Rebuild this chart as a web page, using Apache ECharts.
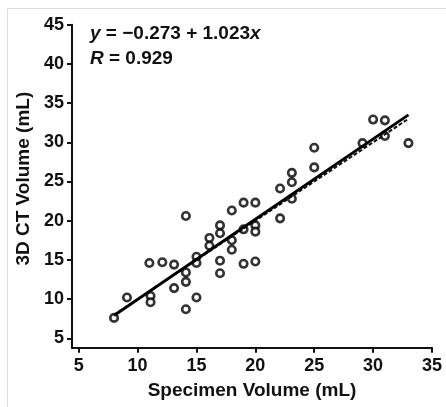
<!DOCTYPE html>
<html>
<head>
<meta charset="utf-8">
<script src="https://cdn.jsdelivr.net/npm/echarts@6/dist/echarts.min.js"></script>
<style>
  html, body { margin: 0; padding: 0; background: #fff; }
  #chart { width: 446px; height: 407px; }
</style>
</head>
<body>
<div id="chart"></div>
<script>
// Specimen volume (mL) measured directly, per specimen
const specimenVolume = [
  8.0, 9.1, 11.1, 11.1, 11.0, 12.1, 13.1, 13.1, 14.1, 14.1, 14.1,
  14.1, 15.0, 15.0, 15.0, 16.1, 16.1, 17.0, 17.0, 17.0, 17.0, 18.0,
  18.0, 18.0, 19.0, 19.0, 19.0, 20.0, 20.0, 20.0, 20.0, 22.1, 22.1,
  23.1, 23.1, 23.1, 25.0, 25.0, 29.1, 30.0, 31.0, 31.0, 33.0
];
// Matching 3D CT volume (mL)
const ctVolume = [
  7.6, 10.2, 10.4, 9.6, 14.6, 14.7, 14.4, 11.4, 13.4, 12.2, 8.7,
  20.6, 15.4, 14.6, 10.2, 17.8, 16.8, 19.4, 18.4, 14.9, 13.3, 17.5,
  16.3, 21.3, 22.3, 18.9, 14.5, 22.3, 19.4, 18.6, 14.8, 24.1, 20.3,
  26.1, 24.9, 22.8, 29.3, 26.8, 29.9, 32.9, 32.8, 30.8, 29.9
];
// Regression: intercept, slope
const fitCoef = [-0.273, 1.023];
const fitRange = [8, 33];
const rValue = 0.929;
const xTicks = [5, 10, 15, 20, 25, 30, 35];
const yTicks = [5, 10, 15, 20, 25, 30, 35, 40, 45];

const points = specimenVolume.map((x, i) => [x, ctVolume[i]]);
const fitLine = fitRange.map(x => [x, fitCoef[0] + fitCoef[1] * x]);
const identityLine = fitRange.map(x => [x, x]);

const FONT = '"Liberation Sans", Arial, Helvetica, sans-serif';
const INK = '#111';
const chart = echarts.init(document.getElementById('chart'), null, { renderer: 'canvas' });

const axisCommon = {
  type: 'value',
  splitLine: { show: false },
  axisLine: { show: true, onZero: false, lineStyle: { color: INK, width: 2 } },
  axisTick: { show: true, length: 5, lineStyle: { color: INK, width: 2 } },
  nameLocation: 'middle'
};
const nameStyle = { fontFamily: FONT, fontWeight: 'bold', fontSize: 19, color: INK };
const labelStyle = { fontFamily: FONT, fontWeight: 'bold', fontSize: 18, color: INK };

chart.setOption({
  animation: false,
  backgroundColor: '#fff',
  grid: { left: 72, right: 14, top: 24.7, bottom: 59.3, containLabel: false },
  xAxis: Object.assign({}, axisCommon, {
    min: 4.43, max: 35,
    name: 'Specimen Volume (mL)',
    nameGap: 34,
    nameTextStyle: nameStyle,
    axisTick: Object.assign({}, axisCommon.axisTick, { customValues: xTicks }),
    axisLabel: Object.assign({ customValues: xTicks, margin: 9 }, labelStyle)
  }),
  yAxis: Object.assign({}, axisCommon, {
    min: 3.8, max: 45,
    name: '3D CT Volume (mL)',
    nameGap: 37,
    nameTextStyle: Object.assign({ padding: [0, 0, 0, 15] }, nameStyle),
    axisTick: Object.assign({}, axisCommon.axisTick, { customValues: yTicks }),
    axisLabel: Object.assign({ customValues: yTicks, margin: 8 }, labelStyle)
  }),
  graphic: [
    {
      type: 'rect', silent: true,
      shape: { x: 7.5, y: 8.5, width: 480, height: 450 },
      style: { fill: 'none', stroke: '#dcdcdc', lineWidth: 1 }
    },
    {
      type: 'text', left: 90, top: 21,
      style: {
        text: '{i|y} = \u22120.273 + 1.023{i|x}\n{i|R} = ' + rValue.toFixed(3),
        fontFamily: FONT, fontWeight: 'bold', fontSize: 19, lineHeight: 25, fill: INK,
        rich: { i: { fontFamily: FONT, fontWeight: 'bold', fontStyle: 'italic', fontSize: 19, lineHeight: 25, fill: INK } }
      }
    }
  ],
  series: [
    {
      type: 'scatter',
      data: points,
      symbol: 'circle',
      symbolSize: 7.5,
      itemStyle: { color: '#fff', borderColor: '#000', borderWidth: 2.6 },
      z: 2
    },
    {
      type: 'line',
      data: identityLine,
      symbol: 'none',
      lineStyle: { color: INK, width: 2, type: [4, 2] },
      z: 3
    },
    {
      type: 'line',
      data: fitLine,
      symbol: 'none',
      lineStyle: { color: '#000', width: 2.8 },
      z: 4
    }
  ]
});
</script>
</body>
</html>
